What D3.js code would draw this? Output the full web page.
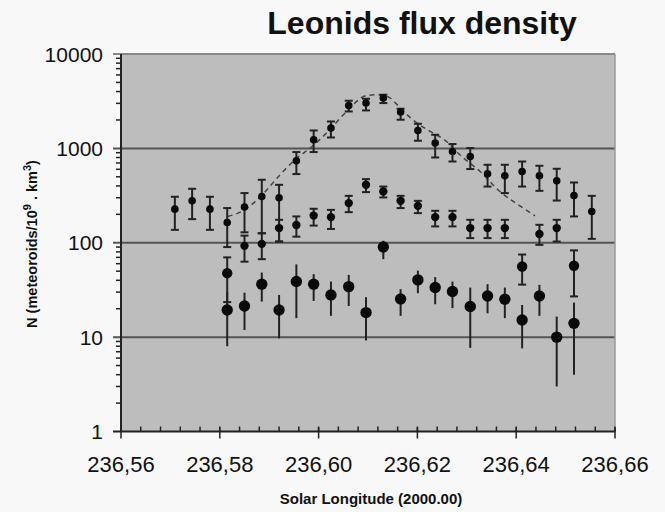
<!DOCTYPE html>
<html>
<head>
<meta charset="utf-8">
<script src="https://cdn.jsdelivr.net/npm/d3@7"></script>
<style>
  body { margin: 0; background: #f8f8f8; }
  svg { font-family: "Liberation Sans", Arial, sans-serif; }
</style>
</head>
<body>
<div id="chart"></div>
<script>
// solar longitude of each measurement interval
var solarLong = [236.5709, 236.5744, 236.5780, 236.5815, 236.5850, 236.5885, 236.5920,
  236.5955, 236.5990, 236.6025, 236.6061, 236.6096, 236.6131, 236.6166, 236.6201,
  236.6236, 236.6271, 236.6307, 236.6342, 236.6377, 236.6412, 236.6447, 236.6482,
  236.6517, 236.6553];

// upper series (small dots, capped bars) - one per interval
var upperVal = [227, 278, 227, 164, 239, 309, 299, 738, 1234, 1641, 2850, 3020, 3415,
  2427, 1548, 1138, 927, 820, 538, 512, 569, 512, 453, 317, 214];
var upperLo = [137, 178, 137, 90, 129, 126, 103, 534, 914, 1305, 2461, 2525, 3020,
  2011, 1205, 801, 726, 604, 394, 336, 394, 355, 280, 190, 110];
var upperHi = [307, 373, 307, 233, 336, 465, 411, 914, 1548, 1928, 3198, 3357, 3701,
  2630, 1823, 1393, 1111, 1008, 670, 670, 726, 654, 608, 435, 314];

// middle series
var midIdx = [4, 5, 6, 7, 8, 9, 10, 11, 12, 13, 14, 15, 16, 17, 18, 19, 21, 22];
var midVal = [92.7, 97.3, 143, 154, 194, 187, 263, 411, 349, 278, 246, 187, 187, 143, 143, 143, 124, 143];
var midLo = [63, 67, 103, 116, 152, 140, 211, 344, 302, 233, 206, 149, 149, 112, 112, 112, 95, 103];
var midHi = [119, 126, 175, 190, 229, 223, 314, 472, 394, 314, 278, 218, 218, 175, 175, 175, 155, 175];

// big dots with capped bars
var capIdx = [3, 20, 23];
var capVal = [47.6, 56, 57];
var capLo = [23.5, 36, 27];
var capHi = [70, 75, 83];

// lower series (big dots, plain bars)
var lowIdx = [3, 4, 5, 6, 7, 8, 9, 10, 11, 12, 13, 14, 15, 16, 17, 18, 19, 20, 21, 22, 23];
var lowVal = [19.4, 21.4, 36.4, 19.4, 38.8, 36.4, 28, 34.3, 18.2, 90, 25.4, 40.4, 33.5,
  30.4, 21.1, 27.3, 25.2, 15.2, 27.3, 10, 14];
var lowLo = [8, 11.9, 23.8, 9.7, 15.9, 24.2, 16.8, 21.4, 9.2, 67, 16.8, 29.2, 22.3,
  20.3, 7.7, 17.9, 15.9, 7.6, 16.8, 3, 4];
var lowHi = [30, 29.6, 48.3, 28, 59, 46.5, 38.8, 45.7, 26.5, 105, 32.2, 50.7, 43.2,
  38.8, 33.5, 36.4, 33.5, 21.9, 35.8, 16.5, 23.2];

// model curve (dashed)
var modelX = [236.5816, 236.5850, 236.5868, 236.5886, 236.5922, 236.5956, 236.5983,
  236.6016, 236.6057, 236.6096, 236.6124, 236.6145, 236.6165, 236.6199, 236.6226,
  236.6259, 236.6286, 236.6327, 236.6367, 236.6401, 236.6438];
var modelY = [190, 223, 263, 322, 525, 789, 1007, 1453, 2461, 3614, 3704, 3415, 2675,
  1855, 1511, 1183, 855, 569, 349, 259, 193];

var yTicks = [1, 10, 100, 1000, 10000];
var xTicks = [236.56, 236.58, 236.60, 236.62, 236.64, 236.66];

var W = 665, H = 512;
var svg = d3.select("#chart").append("svg").attr("width", W).attr("height", H);

var x = d3.scaleLinear().domain([236.56, 236.66]).range([121, 615]);
var y = d3.scaleLog().domain([1, 10000]).range([431.5, 54]);

// plot background
svg.append("rect")
  .attr("x", x(236.56)).attr("y", y(10000))
  .attr("width", x(236.66) - x(236.56)).attr("height", y(1) - y(10000))
  .attr("fill", "#bdbdbd");

// gridlines
svg.selectAll(".grid").data([10, 100, 1000]).enter().append("line")
  .attr("x1", x(236.56) - 8).attr("x2", x(236.66))
  .attr("y1", function (d) { return y(d); }).attr("y2", function (d) { return y(d); })
  .attr("stroke", "#555").attr("stroke-width", 2);
// top and right border
svg.append("line").attr("x1", x(236.56) - 8).attr("x2", x(236.66))
  .attr("y1", y(10000)).attr("y2", y(10000)).attr("stroke", "#888").attr("stroke-width", 2);
svg.append("line").attr("x1", x(236.66)).attr("x2", x(236.66))
  .attr("y1", y(10000)).attr("y2", y(1)).attr("stroke", "#999").attr("stroke-width", 1.5);

// y minor ticks
var minor = [];
for (var dec = 1; dec < 10000; dec *= 10)
  for (var k = 2; k < 10; k++) minor.push(dec * k);
svg.selectAll(".ymin").data(minor).enter().append("line")
  .attr("x1", x(236.56) - 5).attr("x2", x(236.56))
  .attr("y1", function (d) { return y(d); }).attr("y2", function (d) { return y(d); })
  .attr("stroke", "#222").attr("stroke-width", 1.5);

// x minor ticks
var xMinor = d3.range(0, 26).map(function (i) { return 236.56 + i * 0.004; });
svg.selectAll(".xmin").data(xMinor).enter().append("line")
  .attr("x1", function (d) { return x(d); }).attr("x2", function (d) { return x(d); })
  .attr("y1", y(1) - 5).attr("y2", y(1))
  .attr("stroke", "#222").attr("stroke-width", 1.5);
svg.selectAll(".xmaj").data(xTicks).enter().append("line")
  .attr("x1", function (d) { return x(d); }).attr("x2", function (d) { return x(d); })
  .attr("y1", y(1) - 4).attr("y2", y(1) + 7)
  .attr("stroke", "#222").attr("stroke-width", 1.5);

// axes lines
svg.append("line").attr("x1", x(236.56)).attr("x2", x(236.56))
  .attr("y1", y(10000)).attr("y2", y(1)).attr("stroke", "#222").attr("stroke-width", 2);
svg.append("line").attr("x1", x(236.56) - 8).attr("x2", x(236.66))
  .attr("y1", y(1)).attr("y2", y(1)).attr("stroke", "#222").attr("stroke-width", 2);

// tick labels
svg.selectAll(".ylab").data(yTicks).enter().append("text")
  .attr("x", 103).attr("y", function (d) { return y(d) + 7.5; })
  .attr("text-anchor", "end").style("font-size", "21px").attr("fill", "#111")
  .text(function (d) { return d; });
svg.selectAll(".xlab").data(xTicks).enter().append("text")
  .attr("x", function (d) { return x(d); }).attr("y", 472)
  .attr("text-anchor", "middle").style("font-size", "22px").attr("fill", "#111")
  .text(function (d) { return d3.format(".2f")(d).replace(".", ","); });

// model curve
var line = d3.line()
  .x(function (d, i) { return x(modelX[i]); })
  .y(function (d) { return y(d); })
  .curve(d3.curveMonotoneX);
svg.append("path").attr("d", line(modelY))
  .attr("fill", "none").attr("stroke", "#444").attr("stroke-width", 1.5)
  .attr("stroke-dasharray", "5,4");

function drawSeries(idx, val, lo, hi, r, cap) {
  var g = svg.append("g");
  var data = val.map(function (v, i) {
    return { sl: solarLong[idx ? idx[i] : i], v: v, lo: lo[i], hi: hi[i] };
  });
  g.selectAll(".bar").data(data).enter().append("line")
    .attr("x1", function (d) { return x(d.sl); }).attr("x2", function (d) { return x(d.sl); })
    .attr("y1", function (d) { return y(d.lo); }).attr("y2", function (d) { return y(d.hi); })
    .attr("stroke", "#222").attr("stroke-width", 2);
  if (cap) {
    ["lo", "hi"].forEach(function (key) {
      g.selectAll(".cap" + key).data(data).enter().append("line")
        .attr("x1", function (d) { return x(d.sl) - 4; }).attr("x2", function (d) { return x(d.sl) + 4; })
        .attr("y1", function (d) { return y(d[key]); }).attr("y2", function (d) { return y(d[key]); })
        .attr("stroke", "#222").attr("stroke-width", 2);
    });
  }
  g.selectAll("circle").data(data).enter().append("circle")
    .attr("cx", function (d) { return x(d.sl); }).attr("cy", function (d) { return y(d.v); })
    .attr("r", r).attr("fill", "#0a0a0a");
}

drawSeries(null, upperVal, upperLo, upperHi, 3.8, true);
drawSeries(midIdx, midVal, midLo, midHi, 4.2, true);
drawSeries(capIdx, capVal, capLo, capHi, 5.2, true);
drawSeries(lowIdx, lowVal, lowLo, lowHi, 5.7, false);

// titles
svg.append("text").attr("x", 422).attr("y", 34)
  .attr("text-anchor", "middle").style("font-size", "32px").style("font-weight", "bold")
  .attr("fill", "#111").text("Leonids flux density");

svg.append("text").attr("x", 371).attr("y", 504)
  .attr("text-anchor", "middle").style("font-size", "15px").style("font-weight", "bold")
  .attr("fill", "#111").text("Solar Longitude (2000.00)");

var yt = svg.append("text")
  .attr("transform", "translate(37,244) rotate(-90)")
  .attr("text-anchor", "middle").style("font-size", "14.5px").style("font-weight", "bold")
  .attr("fill", "#111");
yt.append("tspan").text("N (meteoroids/10");
yt.append("tspan").attr("dy", -6).style("font-size", "11px").text("9");
yt.append("tspan").attr("dy", 6).text(" . km");
yt.append("tspan").attr("dy", -6).style("font-size", "11px").text("3");
yt.append("tspan").attr("dy", 6).text(")");
</script>
</body>
</html>
